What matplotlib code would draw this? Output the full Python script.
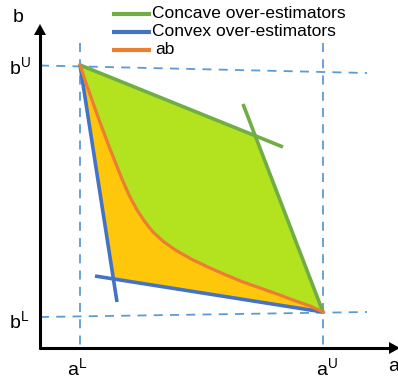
import matplotlib.pyplot as plt
import numpy as np

plt.rcParams['font.family'] = ['Liberation Sans', 'DejaVu Sans']
plt.rcParams['mathtext.fontset'] = 'custom'
plt.rcParams['mathtext.rm'] = 'Liberation Sans'

# diagram coordinates (x to the right, y downward as in the picture)
corner_top = (80, 65)       # (aL, bU)
corner_bottom = (323, 312)  # (aU, bL)

# ab curve
curve_x = [80, 86, 92, 98, 104, 110, 116, 122, 129, 137, 145, 153, 164, 177,
           193, 210, 226, 243, 260, 277, 293, 310, 323]
curve_y = [65, 83, 100, 117, 133, 149, 164, 179, 195, 210, 222, 232, 242, 251,
           260, 268, 275, 282, 288, 294, 300, 306, 312]

# concave over-estimators (two segments)
green1_x = [80, 283]
green1_y = [65, 147]
green2_x = [243, 323]
green2_y = [104, 312]

# convex over-estimators (two segments)
blue1_x = [80, 117]
blue1_y = [65, 302]
blue2_x = [95, 323]
blue2_y = [276, 312]

# dashed guide lines
bU_x, bU_y = [40, 367], [65.5, 73]
bL_x, bL_y = [40, 367], [317, 312]
aL_x, aL_y = [80, 80], [43, 348]
aU_x, aU_y = [323, 323], [43, 348]

legend_labels = ['Concave over-estimators', 'Convex over-estimators', 'ab']

c_green = '#70AD47'
c_blue = '#4472C4'
c_orange = '#ED7D31'
c_dash = '#5B9BD5'


def intersect(x1, y1, x2, y2):
    # intersection of two segments given by endpoints
    p = np.array([x1[0], y1[0]], float)
    r = np.array([x1[1] - x1[0], y1[1] - y1[0]], float)
    q = np.array([x2[0], y2[0]], float)
    s = np.array([x2[1] - x2[0], y2[1] - y2[0]], float)
    t = np.cross(q - p, s) / np.cross(r, s)
    return p + t * r


g = intersect(green1_x, green1_y, green2_x, green2_y)
b = intersect(blue1_x, blue1_y, blue2_x, blue2_y)

fig = plt.figure(figsize=(3.98, 3.80), dpi=100)
ax = fig.add_axes([0, 0, 1, 1])
ax.set_xlim(0, 398)
ax.set_ylim(380, 0)
ax.axis('off')

# dashed lines
for xs, ys in [(bU_x, bU_y), (bL_x, bL_y), (aL_x, aL_y), (aU_x, aU_y)]:
    ax.plot(xs, ys, color=c_dash, lw=1.3, ls=(0, (5, 4)), zorder=1)

# fills
gx = [corner_top[0], g[0], corner_bottom[0]] + curve_x[::-1]
gy = [corner_top[1], g[1], corner_bottom[1]] + curve_y[::-1]
ax.fill(gx, gy, color='#B3E31F', lw=0, zorder=2)
yx = curve_x + [corner_bottom[0], b[0], corner_top[0]]
yy = curve_y + [corner_bottom[1], b[1], corner_top[1]]
ax.fill(yx, yy, color='#FFC70B', lw=0, zorder=2)

# estimator lines
ax.plot(green1_x, green1_y, color=c_green, lw=2.6, solid_capstyle='butt', zorder=3)
ax.plot(green2_x, green2_y, color=c_green, lw=2.6, solid_capstyle='butt', zorder=3)
ax.plot(blue1_x, blue1_y, color=c_blue, lw=2.6, solid_capstyle='butt', zorder=3)
ax.plot(blue2_x, blue2_y, color=c_blue, lw=2.6, solid_capstyle='butt', zorder=3)
ax.plot(curve_x, curve_y, color=c_orange, lw=2.3, solid_joinstyle='round', zorder=4)

# axes with arrows
ax.plot([40, 40], [349, 33], color='black', lw=2.2, solid_capstyle='butt', zorder=5)
ax.plot([39, 390], [348, 348], color='black', lw=2.2, solid_capstyle='butt', zorder=5)
ax.fill([34, 46, 40], [35, 35, 24], color='black', lw=0, zorder=5)
ax.fill([389, 389, 400], [342, 354, 348], color='black', lw=0, zorder=5)

# axis labels
fs = 14
ax.text(13, 22, 'b', fontsize=fs, va='baseline', ha='left')
ax.text(388, 371, 'a', fontsize=fs, va='baseline', ha='left')
ax.text(9, 75, r'b$^{\mathrm{U}}$', fontsize=fs, va='baseline', ha='left')
ax.text(9, 329, r'b$^{\mathrm{L}}$', fontsize=fs, va='baseline', ha='left')
ax.text(67, 376, r'a$^{\mathrm{L}}$', fontsize=fs, va='baseline', ha='left')
ax.text(316, 376, r'a$^{\mathrm{U}}$', fontsize=fs, va='baseline', ha='left')

# legend
leg_y = [14, 32, 50]
for lab, col, yv in zip(legend_labels, [c_green, c_blue, c_orange], leg_y):
    ax.plot([112, 151], [yv, yv], color=col, lw=3, solid_capstyle='butt', zorder=5)
    ax.text(152 if lab != 'ab' else 155, yv, lab, fontsize=12.5, va='center', ha='left')

fig.savefig('out.png', dpi=100)
